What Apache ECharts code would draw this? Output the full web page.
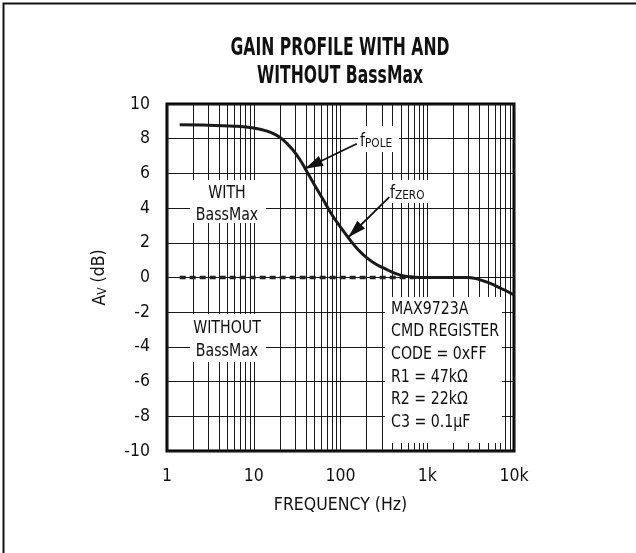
<!DOCTYPE html>
<html>
<head>
<meta charset="utf-8">
<script src="https://cdn.jsdelivr.net/npm/echarts@6/dist/echarts.min.js"></script>
<style>
  html, body { margin: 0; padding: 0; background: #fff; }
  #chart { width: 636px; height: 553px; }
</style>
</head>
<body>
<div id="chart"></div>
<script>
const FONT = "'Liberation Sans Narrow', 'DejaVu Sans Condensed', Roboto, 'Liberation Sans', sans-serif";

// WITH BassMax curve (Hz, dB)
const withFreq = [1.4, 3, 6, 10, 14, 18, 22, 28, 34, 40, 50, 63, 80, 100, 125, 160, 200, 260, 330, 420, 550, 700, 1000, 2000, 3000, 3500, 4000, 5000, 6000, 7000, 8000, 10000];
const withGain = [8.8, 8.78, 8.72, 8.62, 8.45, 8.22, 7.92, 7.38, 6.8, 6.2, 5.35, 4.5, 3.6, 2.9, 2.25, 1.6, 1.15, 0.75, 0.5, 0.25, 0.08, 0.02, 0, 0, 0, -0.05, -0.12, -0.28, -0.45, -0.62, -0.75, -1.0];

// WITHOUT BassMax (flat)
const withoutFreq = [1.4, 700];
const withoutGain = [0, 0];

// axis ticks
const freqTickLabels = ['1', '10', '100', '1k', '10k'];
const decades = [1, 10, 100, 1000];
const minorSteps = [2, 3, 4, 5, 6, 7, 8, 9];

// annotations
const titleLines = ['GAIN PROFILE WITH AND', 'WITHOUT BassMax'];
const infoLines = ['MAX9723A', 'CMD REGISTER', 'CODE = 0xFF', 'R1 = 47k\u03A9', 'R2 = 22k\u03A9', 'C3 = 0.1\u00B5F'];
const poleArrow = [[154, 7.71], [39, 6.27]];
const zeroArrow = [[365, 4.63], [123, 2.32]];

const minorFreqs = [];
decades.forEach(d => minorSteps.forEach(m => minorFreqs.push(d * m)));

// squeeze free text so it matches the condensed face of the original
const ctx = document.createElement('canvas').getContext('2d');
function textWidth(str, font) { ctx.font = font; return ctx.measureText(str).width; }
const infoScale = Math.min(1, 108 / textWidth('CMD REGISTER', '17.5px ' + FONT));
const titleScale = Math.min(1, 219 / textWidth(titleLines[0], 'bold 24px ' + FONT));

const chart = echarts.init(document.getElementById('chart'));

const arrowHead = 'path://M5 16 L10 32 L0 32 Z M5 0 L5 0.01';
function arrow(pts) {
  return [
    { coord: pts[0], symbol: 'none' },
    { coord: pts[1], symbol: arrowHead, symbolSize: [11, 36] }
  ];
}

const white = (x, y, w, h) => ({
  type: 'rect', z: 10, shape: { x: x, y: y, width: w, height: h },
  style: { fill: '#fff' }
});
const txt = (x, y, text, align) => ({
  type: 'text', z: 11, x: x, y: y, scaleX: infoScale,
  style: { text: text, fill: '#111', font: '17.5px ' + FONT, align: align || 'center', verticalAlign: 'middle' }
});
const subText = (x, y, sub) => ({
  type: 'text', z: 11, x: x, y: y, scaleX: infoScale,
  style: {
    text: '{f|f}{s|' + sub + '}', fill: '#111', align: 'left', verticalAlign: 'middle',
    rich: {
      f: { fontSize: 17.5, fontFamily: FONT, lineHeight: 20, verticalAlign: 'bottom', fill: '#111' },
      s: { fontSize: 13, fontFamily: FONT, lineHeight: 13, verticalAlign: 'bottom', fill: '#111' }
    }
  }
});

const graphics = [
  { type: 'rect', z: 12, shape: { x: 3.5, y: 3.5, width: 700, height: 700 }, style: { fill: null, stroke: '#111', lineWidth: 2 } },
  white(190, 180, 76, 43), txt(227, 193, 'WITH'), txt(227, 215, 'BassMax'),
  white(190, 314, 76, 48), txt(227, 328, 'WITHOUT'), txt(227, 351, 'BassMax'),
  white(385, 297, 117, 146),
  white(358, 126, 41, 26), subText(360, 140, 'POLE'),
  white(389, 180, 42, 23), subText(390, 192, 'ZERO')
];
infoLines.forEach((s, i) => graphics.push(txt(391, 309 + 22.7 * i, s, 'left')));
titleLines.forEach((s, i) => graphics.push({
  type: 'text', z: 11, x: 340, y: 49 + 27.5 * i, scaleX: titleScale,
  style: { text: s, fill: '#111', font: 'bold 24px ' + FONT, align: 'center', verticalAlign: 'middle' }
}));

chart.setOption({
  animation: false,
  grid: { left: 167, right: 122, top: 104, bottom: 102, show: true, borderColor: '#000', borderWidth: 3, backgroundColor: 'transparent' },
  xAxis: {
    type: 'log', logBase: 10, min: 1, max: 10000,
    name: 'FREQUENCY (Hz)', nameLocation: 'middle', nameGap: 45,
    nameTextStyle: { fontFamily: FONT, fontSize: 17.5, color: '#111' },
    axisLine: { show: false }, axisTick: { show: false },
    axisLabel: {
      fontFamily: FONT, fontSize: 17.5, color: '#111', margin: 16,
      formatter: v => freqTickLabels[Math.round(Math.log10(v))]
    },
    splitLine: { show: true, lineStyle: { color: '#1a1a1a', width: 1 } }
  },
  yAxis: {
    type: 'value', min: -10, max: 10, interval: 2,
    name: '{a|A}{s|V} (dB)', nameLocation: 'middle', nameGap: 58, nameRotate: 90,
    nameTextStyle: {
      rich: {
        a: { fontFamily: FONT, fontSize: 17.5, lineHeight: 20, verticalAlign: 'bottom', color: '#111' },
        s: { fontFamily: FONT, fontSize: 12, lineHeight: 12, verticalAlign: 'bottom', color: '#111' }
      },
      fontFamily: FONT, fontSize: 17.5, color: '#111'
    },
    axisLine: { show: false }, axisTick: { show: false },
    axisLabel: { fontFamily: FONT, fontSize: 17.5, color: '#111', margin: 17 },
    splitLine: { show: true, lineStyle: { color: '#1a1a1a', width: 1 } }
  },
  series: [
    {
      name: 'minor grid', type: 'line', data: [], silent: true,
      markLine: {
        z: 1, silent: true, symbol: 'none', animation: false,
        label: { show: false },
        lineStyle: { color: '#1a1a1a', width: 1, type: 'solid' },
        data: minorFreqs.map(v => ({ xAxis: v }))
      }
    },
    {
      name: 'WITHOUT BassMax', type: 'line', z: 3, symbol: 'none',
      data: withoutFreq.map((f, i) => [f, withoutGain[i]]),
      lineStyle: { color: '#222', width: 3.5, type: [6, 4] }
    },
    {
      name: 'WITH BassMax', type: 'line', z: 4, symbol: 'none', smooth: 0.4,
      data: withFreq.map((f, i) => [f, withGain[i]]),
      lineStyle: { color: '#1a1a1a', width: 3 },
      markLine: {
        z: 20, silent: true, animation: false,
        label: { show: false },
        lineStyle: { color: '#111', width: 1.8, type: 'solid' },
        itemStyle: { color: '#111' },
        data: [arrow(poleArrow), arrow(zeroArrow)]
      }
    }
  ],
  graphic: graphics
});
</script>
</body>
</html>
